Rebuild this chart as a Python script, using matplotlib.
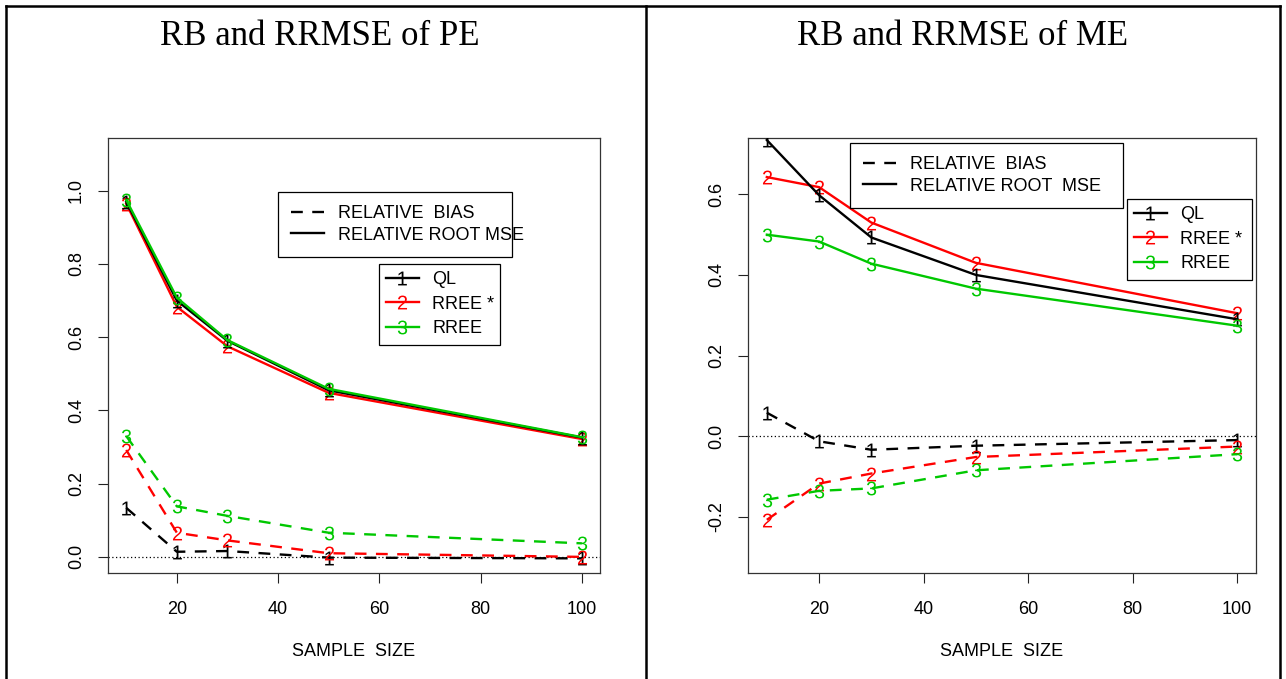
import matplotlib
matplotlib.use("Agg")
import matplotlib.pyplot as plt
from matplotlib.lines import Line2D

plt.rcParams['font.family'] = ['Liberation Sans', 'DejaVu Sans']
plt.rcParams['mathtext.fontset'] = 'custom'
plt.rcParams['mathtext.rm'] = 'Liberation Sans'

# ---------------- data ----------------
sample_size = [10, 20, 30, 50, 100]

# PE panel
pe_rrmse_ql = [0.970, 0.700, 0.590, 0.455, 0.326]
pe_rrmse_rree_star = [0.965, 0.683, 0.575, 0.448, 0.322]
pe_rrmse_rree = [0.975, 0.708, 0.592, 0.459, 0.327]
pe_rb_ql = [0.134, 0.014, 0.016, -0.002, -0.004]
pe_rb_rree_star = [0.292, 0.066, 0.045, 0.010, 0.000]
pe_rb_rree = [0.330, 0.138, 0.112, 0.066, 0.037]

# ME panel
me_rrmse_ql = [0.735, 0.598, 0.493, 0.400, 0.290]
me_rrmse_rree_star = [0.643, 0.618, 0.530, 0.430, 0.305]
me_rrmse_rree = [0.500, 0.483, 0.428, 0.366, 0.274]
me_rb_ql = [0.058, -0.013, -0.034, -0.024, -0.010]
me_rb_rree_star = [-0.208, -0.118, -0.093, -0.052, -0.026]
me_rb_rree = [-0.158, -0.136, -0.130, -0.085, -0.045]

method_names = ["QL", "RREE *", "RREE"]
method_colors = ["black", "#ff0000", "#00c800"]
method_marks = ["1", "2", "3"]

titles = ["RB and RRMSE of PE", "RB and RRMSE of ME"]
xlabel = "SAMPLE  SIZE"
xticks = [20, 40, 60, 80, 100]
pe_yticks = [0.0, 0.2, 0.4, 0.6, 0.8, 1.0]
me_yticks = [-0.2, 0.0, 0.2, 0.4, 0.6]
type_labels_pe = ["RELATIVE  BIAS", "RELATIVE ROOT MSE"]
type_labels_me = ["RELATIVE  BIAS", "RELATIVE ROOT  MSE"]

# ---------------- figure ----------------
W, H = 1286, 679
fig = plt.figure(figsize=(W / 100, H / 100), dpi=100)


def fx(px):
    return px / W


def fy(py):
    return 1 - py / H


# outer table frame
frame_kw = dict(color="black", lw=1.8, transform=fig.transFigure)
fig.add_artist(Line2D([fx(6), fx(6)], [fy(6), 0], **frame_kw))
fig.add_artist(Line2D([fx(646), fx(646)], [fy(6), 0], **frame_kw))
fig.add_artist(Line2D([fx(1280), fx(1280)], [fy(6), 0], **frame_kw))
fig.add_artist(Line2D([fx(6), fx(1280)], [fy(6), fy(6)], **frame_kw))

fig.text(fx(320), fy(45), titles[0], family="Liberation Serif", fontsize=25,
         ha="center", va="baseline")
fig.text(fx(963), fy(45), titles[1], family="Liberation Serif", fontsize=25,
         ha="center", va="baseline")

ax_top, ax_bot = 138, 573
axL = fig.add_axes([fx(108), fy(ax_bot), fx(600) - fx(108), fy(ax_top) - fy(ax_bot)])
axR = fig.add_axes([fx(748), fy(ax_bot), fx(1256) - fx(748), fy(ax_top) - fy(ax_bot)])

LW = 1.7
DASH = (5, 4)
MS = 10


def mark(k):
    return r"$\mathregular{%s}$" % method_marks[k]


def draw_panel(ax, rrmse, rb, ylim, yticks, type_labels, leg1, leg2):
    ax.axhline(0, color="black", lw=0.9, ls=(0, (1, 2)), zorder=1)
    for k in range(3):
        ax.plot(sample_size, rb[k], color=method_colors[k], lw=LW,
                dashes=DASH, marker=mark(k), markersize=MS, mew=0, zorder=2 + k)
    order = [1, 0, 2]
    for k in order:
        ax.plot(sample_size, rrmse[k], color=method_colors[k], lw=LW,
                marker=mark(k), markersize=MS, mew=0, zorder=5 + order.index(k))
    ax.set_xlim(6.4, 103.6)
    ax.set_ylim(ylim[0] - 0.04 * (ylim[1] - ylim[0]), ylim[1] + 0.04 * (ylim[1] - ylim[0]))
    ax.set_xticks(xticks)
    ax.set_xticklabels([str(t) for t in xticks])
    ax.set_yticks(yticks)
    ax.set_yticklabels(["%.1f" % t for t in yticks])
    ax.tick_params(axis="both", direction="out", length=7.5, width=0.8,
                   labelsize=13, color="#222222")
    ax.tick_params(axis="x", pad=13)
    ax.tick_params(axis="y", pad=9, labelrotation=90)
    for lab in ax.get_yticklabels():
        lab.set_va("center")
    for s in ax.spines.values():
        s.set_linewidth(0.9)
        s.set_color("#333333")
    ax.set_xlabel(xlabel, fontsize=13, labelpad=18)

    h1 = [Line2D([], [], color="black", lw=LW, dashes=DASH),
          Line2D([], [], color="black", lw=LW)]
    l1 = ax.legend(h1, type_labels, loc="upper left", bbox_to_anchor=leg1,
                   mode="expand", borderaxespad=0, fontsize=13, frameon=True,
                   fancybox=False, edgecolor="black", framealpha=1,
                   handlelength=1.8, handletextpad=0.8, labelspacing=0.25,
                   borderpad=0.72)
    l1.get_frame().set_linewidth(0.9)
    ax.add_artist(l1)
    h2 = [Line2D([], [], color=method_colors[k], lw=LW,
                 marker=mark(k), markersize=MS, mew=0)
          for k in range(3)]
    l2 = ax.legend(h2, method_names, loc="upper left", bbox_to_anchor=leg2,
                   mode="expand", borderaxespad=0, fontsize=13, frameon=True,
                   fancybox=False, edgecolor="black", framealpha=1,
                   handlelength=1.8, handletextpad=0.75, labelspacing=0.42,
                   borderpad=0.4, numpoints=1)
    l2.get_frame().set_linewidth(0.9)


def bb(ax_left, ax_right, x0, x1, y0):
    # bbox (axes fraction) from pixel positions
    w = ax_right - ax_left
    h = ax_bot - ax_top
    return ((x0 - ax_left) / w, 0, (x1 - x0) / w, (ax_bot - y0) / h)


draw_panel(axL,
           [pe_rrmse_ql, pe_rrmse_rree_star, pe_rrmse_rree],
           [pe_rb_ql, pe_rb_rree_star, pe_rb_rree],
           (0.0, 1.1), pe_yticks, type_labels_pe,
           bb(108, 600, 278, 512, 192), bb(108, 600, 379, 500, 264))
draw_panel(axR,
           [me_rrmse_ql, me_rrmse_rree_star, me_rrmse_rree],
           [me_rb_ql, me_rb_rree_star, me_rb_rree],
           (-0.3, 0.7), me_yticks, type_labels_me,
           bb(748, 1256, 850, 1123, 143), bb(748, 1256, 1127, 1252, 199))

fig.savefig("out.png", dpi=100)
